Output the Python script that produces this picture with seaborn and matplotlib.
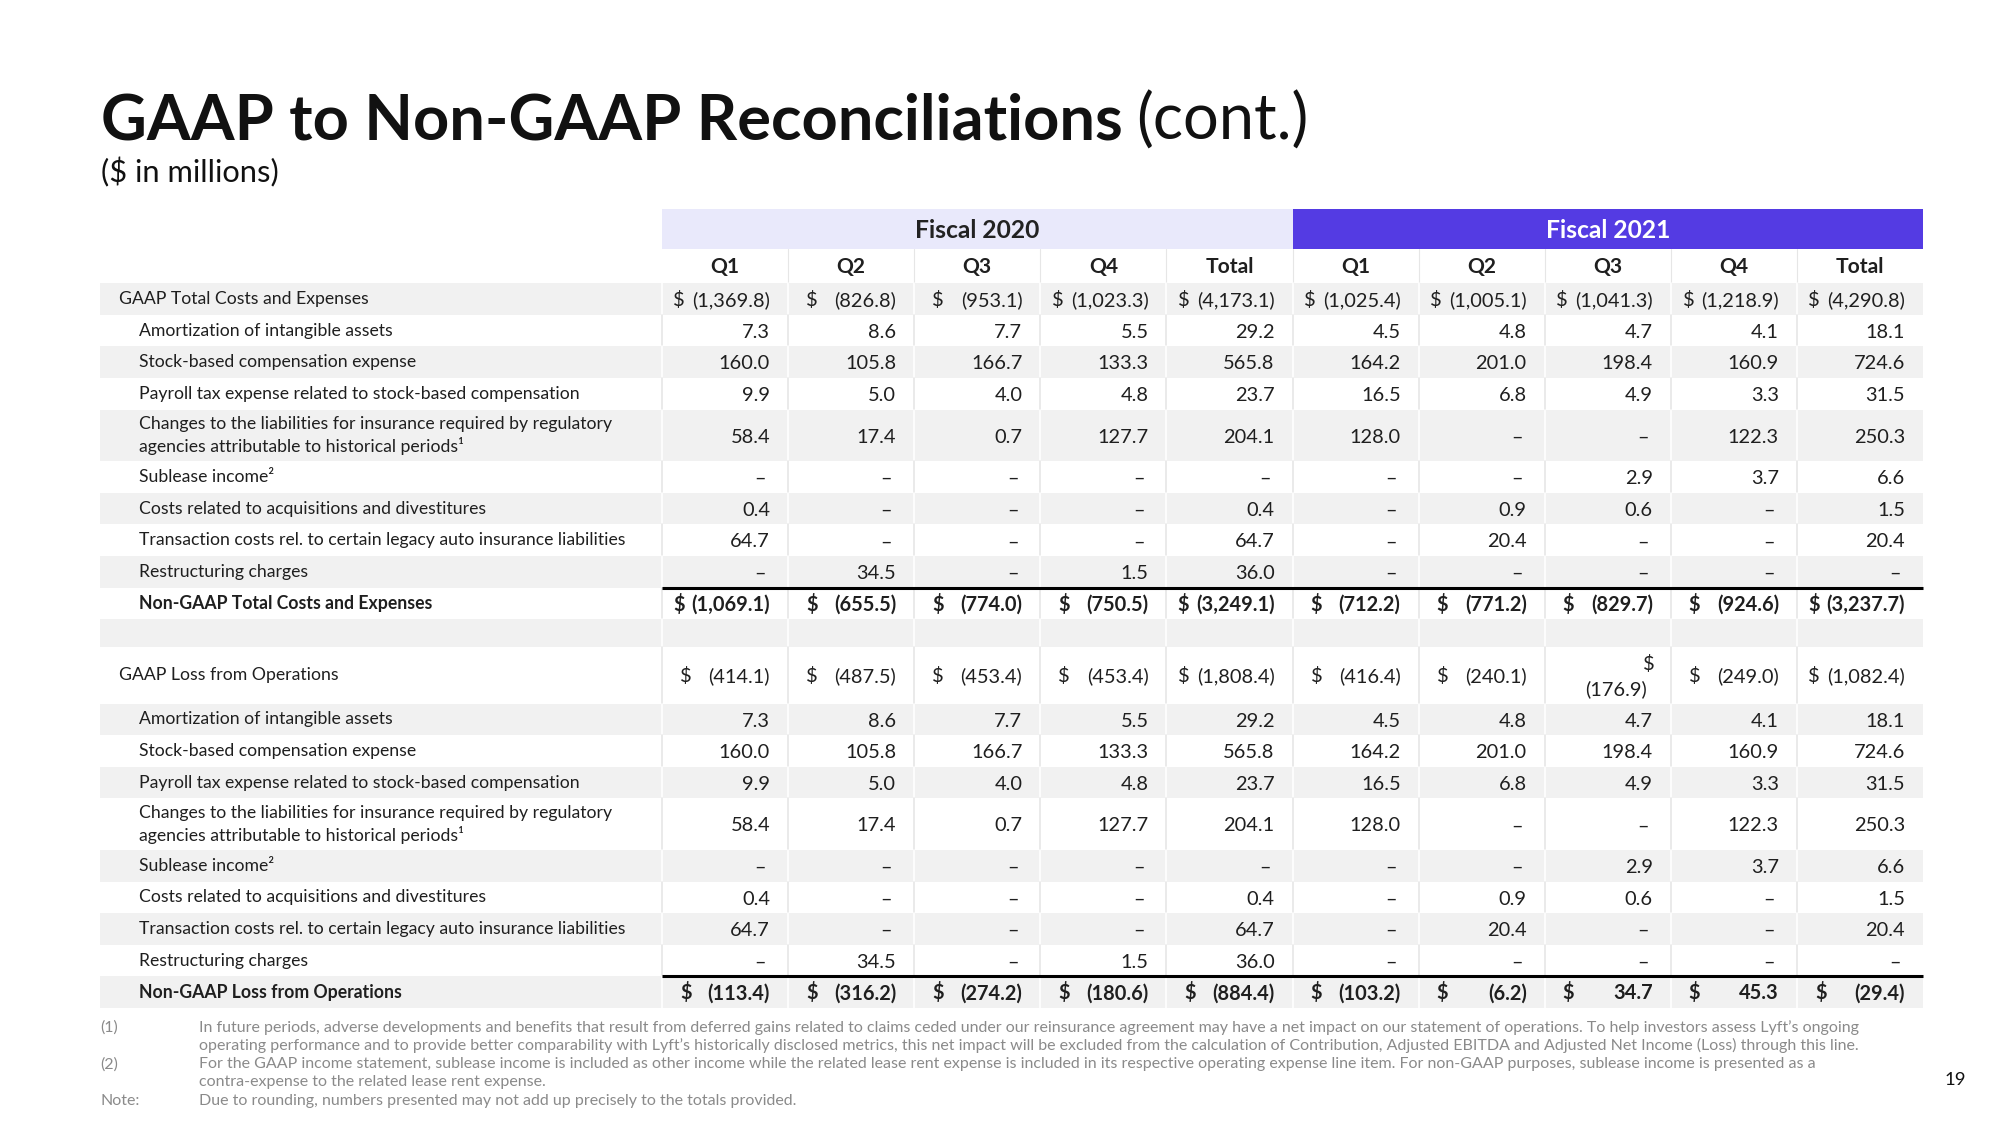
import matplotlib
matplotlib.use("Agg")
import matplotlib.pyplot as plt
import seaborn as sns
from matplotlib.patches import Rectangle

sns.set_theme(style="white")
plt.rcParams["font.family"] = ["Lato", "DejaVu Sans"]

# ---------------- data ----------------
title_main = "GAAP to Non-GAAP Reconciliations"
title_tail = "(cont.)"
subtitle = "($ in millions)"
fiscal_years = ["Fiscal 2020", "Fiscal 2021"]
periods = ["Q1", "Q2", "Q3", "Q4", "Total", "Q1", "Q2", "Q3", "Q4", "Total"]

adj_labels = [
    "Amortization of intangible assets",
    "Stock-based compensation expense",
    "Payroll tax expense related to stock-based compensation",
    "Changes to the liabilities for insurance required by regulatory\nagencies attributable to historical periods¹",
    "Sublease income²",
    "Costs related to acquisitions and divestitures",
    "Transaction costs rel. to certain legacy auto insurance liabilities",
    "Restructuring charges",
]

gaap_total_costs = [-1369.8, -826.8, -953.1, -1023.3, -4173.1, -1025.4, -1005.1, -1041.3, -1218.9, -4290.8]
amortization = [7.3, 8.6, 7.7, 5.5, 29.2, 4.5, 4.8, 4.7, 4.1, 18.1]
stock_comp = [160.0, 105.8, 166.7, 133.3, 565.8, 164.2, 201.0, 198.4, 160.9, 724.6]
payroll_tax = [9.9, 5.0, 4.0, 4.8, 23.7, 16.5, 6.8, 4.9, 3.3, 31.5]
insurance_changes = [58.4, 17.4, 0.7, 127.7, 204.1, 128.0, None, None, 122.3, 250.3]
sublease_income = [None, None, None, None, None, None, None, 2.9, 3.7, 6.6]
acquisitions = [0.4, None, None, None, 0.4, None, 0.9, 0.6, None, 1.5]
legacy_auto = [64.7, None, None, None, 64.7, None, 20.4, None, None, 20.4]
restructuring = [None, 34.5, None, 1.5, 36.0, None, None, None, None, None]
non_gaap_costs = [-1069.1, -655.5, -774.0, -750.5, -3249.1, -712.2, -771.2, -829.7, -924.6, -3237.7]
gaap_loss_ops = [-414.1, -487.5, -453.4, -453.4, -1808.4, -416.4, -240.1, -176.9, -249.0, -1082.4]
non_gaap_loss_ops = [-113.4, -316.2, -274.2, -180.6, -884.4, -103.2, -6.2, 34.7, 45.3, -29.4]

adjustments = [amortization, stock_comp, payroll_tax, insurance_changes,
               sublease_income, acquisitions, legacy_auto, restructuring]

footnotes = [
    ("(1)", "In future periods, adverse developments and benefits that result from deferred gains related to claims ceded under our reinsurance agreement may have a net impact on our statement of operations. To help investors assess Lyft’s ongoing"),
    ("", "operating performance and to provide better comparability with Lyft’s historically disclosed metrics, this net impact will be excluded from the calculation of Contribution, Adjusted EBITDA and Adjusted Net Income (Loss) through this line."),
    ("(2)", "For the GAAP income statement, sublease income is included as other income while the related lease rent expense is included in its respective operating expense line item. For non-GAAP purposes, sublease income is presented as a"),
    ("", "contra-expense to the related lease rent expense."),
    ("Note:", "Due to rounding, numbers presented may not add up precisely to the totals provided."),
]
page_number = "19"


def fmt(v):
    if v is None:
        return "–"
    s = f"{abs(v):,.1f}"
    return f"({s})" if v < 0 else s


# ---------------- layout ----------------
W, H = 2000, 1125
fig = plt.figure(figsize=(W / 100, H / 100), dpi=100)
ax = fig.add_axes([0, 0, 1, 1])
ax.set_xlim(0, W)
ax.set_ylim(H, 0)
ax.axis("off")
fig.canvas.draw()
R = fig.canvas.get_renderer()


def width_of(txt, size, weight="normal"):
    t = ax.text(0, 0, txt, fontsize=size, weight=weight)
    w = t.get_window_extent(R).width
    t.remove()
    return w


def fit(txt, target, weight="normal"):
    return 20 * target / width_of(txt, 20, weight)


TEXT = "#1f1f1f"
GRAY = "#F1F1F1"
LAV = "#E9E9FB"
PURPLE = "#543BE3"
SEP = "#E6E6E6"

tbl_left, lab_right, tbl_right = 100, 662, 1923
ncol = len(periods)
cw = (tbl_right - lab_right) / ncol
col_left = [lab_right + i * cw for i in range(ncol)]

body_fs = fit(adj_labels[6], 486)
num_fs = body_fs * 1.14
cap = num_fs * 100 / 72 * 0.72
lcap = body_fs * 100 / 72 * 0.72

# title
title_fs = fit(title_main, 1021, "bold")
t1 = ax.text(101, 140, title_main, fontsize=title_fs, weight="bold", color="#111111", va="baseline")
fig.canvas.draw()
bx = t1.get_window_extent(R).x1
ax.text(bx + title_fs * 0.3, 140, title_tail, fontsize=title_fs, color="#111111", va="baseline")
ax.text(101, 172, subtitle, fontsize=fit(subtitle, 178), color="#111111", va="center")

# header rows
hy0, hy1, hy2 = 209, 249, 283.2
ax.add_patch(Rectangle((lab_right, hy0), 5 * cw, hy1 - hy0, color=LAV, lw=0))
ax.add_patch(Rectangle((lab_right + 5 * cw, hy0), 5 * cw, hy1 - hy0, color=PURPLE, lw=0))
ax.text(lab_right + 2.5 * cw, (hy0 + hy1) / 2 + 1, fiscal_years[0], fontsize=body_fs * 1.4,
        weight="bold", color="#222222", ha="center", va="center")
ax.text(lab_right + 7.5 * cw, (hy0 + hy1) / 2 + 1, fiscal_years[1], fontsize=body_fs * 1.4,
        weight="bold", color="white", ha="center", va="center")
for i, p in enumerate(periods):
    ax.text(col_left[i] + cw / 2, (hy1 + hy2) / 2 + cap / 2, p, fontsize=num_fs * 1.05,
            weight="bold", color=TEXT, ha="center", va="baseline")
    if i > 0:
        ax.plot([col_left[i]] * 2, [hy1, hy2], color=SEP, lw=0.8)

# body rows: (label, values, indent, bold, dollar, height)
N, TALL = 31.6, 51.5
rows = [("GAAP Total Costs and Expenses", gaap_total_costs, 0, False, True, N)]
for lab, vals in zip(adj_labels, adjustments):
    rows.append((lab, vals, 1, False, False, TALL if "\n" in lab else N))
rows.append(("Non-GAAP Total Costs and Expenses", non_gaap_costs, 1, True, True, N))
rows.append(("", None, 0, False, False, 27.5))
rows.append(("GAAP Loss from Operations", gaap_loss_ops, 0, False, True, 57.0))
for lab, vals in zip(adj_labels, adjustments):
    rows.append((lab, vals, 1, False, False, TALL if "\n" in lab else N))
rows.append(("Non-GAAP Loss from Operations", non_gaap_loss_ops, 1, True, True, N))

wrapped = {(11, 7)}   # row index, column index where "$" wraps above the number

dollar_jobs = []
y = hy2
for ri, (lab, vals, indent, bold, dollar, h) in enumerate(rows):
    shade = ri % 2 == 0
    if shade:
        ax.add_patch(Rectangle((tbl_left, y), tbl_right - tbl_left, h, color=GRAY, lw=0))
    sep_c = "white" if shade else SEP
    for i in range(ncol):
        ax.plot([col_left[i]] * 2, [y, y + h], color=sep_c, lw=1.2)
    yc = y + h / 2
    wt = "bold" if bold else "normal"
    if bold:
        ax.plot([lab_right, tbl_right], [y, y], color="black", lw=2.2, solid_capstyle="butt")
    if lab:
        lx = 119 if indent == 0 else 139
        ax.text(lx, yc, lab, fontsize=body_fs, weight=wt, color=TEXT, va="center",
                linespacing=1.35)
    if vals is not None:
        for ci, v in enumerate(vals):
            rx = col_left[ci] + cw - 18
            if (ri, ci) in wrapped:
                ax.text(rx + 2, yc - 12.5 + cap / 2, "$", fontsize=num_fs, weight=wt,
                        color=TEXT, ha="right", va="baseline")
                ax.text(rx - 6, yc + 13 + cap / 2, fmt(v), fontsize=num_fs, weight=wt,
                        color=TEXT, ha="right", va="baseline")
                continue
            s = fmt(v)
            if v is None:
                rx -= 4
            t = ax.text(rx, yc + cap / 2, s, fontsize=num_fs, weight=wt, color=TEXT,
                        ha="right", va="baseline")
            if dollar:
                dollar_jobs.append((col_left[ci], t, yc, wt))
    y += h

fig.canvas.draw()
for cl, t, yc, wt in dollar_jobs:
    x0 = t.get_window_extent(R).x0
    dw = width_of("$", num_fs, wt)
    x = min(cl + 18, x0 - dw - 7)
    ax.text(x, yc + cap / 2, "$", fontsize=num_fs, weight=wt, color=TEXT, ha="left",
            va="baseline")

# footnotes
fn_fs = fit(footnotes[0][1], 1673)
for k, (mark, txt) in enumerate(footnotes):
    yy = 1027.5 + k * 18.3
    if mark:
        ax.text(100, yy, mark, fontsize=fn_fs, color="#8a8a8a", va="center")
    ax.text(199, yy, txt, fontsize=fn_fs, color="#8a8a8a", va="center")

ax.text(1945, 1080, page_number, fontsize=fn_fs * 1.15, color="#111111", va="center")

fig.savefig("out.png", dpi=100, facecolor="white")
